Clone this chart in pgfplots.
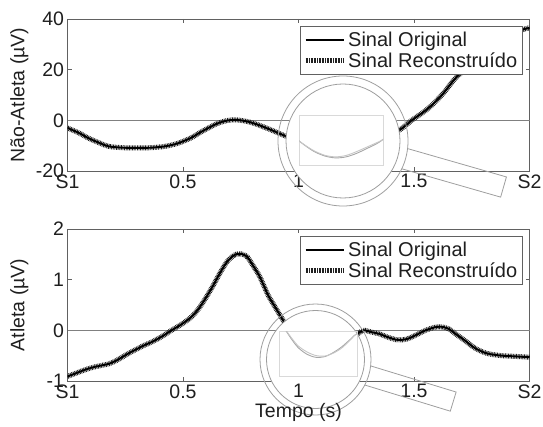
\documentclass[border=0pt]{standalone}
\usepackage{fontspec}
\setmainfont{Liberation Sans}
\usepackage{pgfplots}
\usepackage{pgfplotstable}
\pgfplotsset{compat=1.18}

\definecolor{txt}{gray}{0.12}
\definecolor{frame}{gray}{0.38}
\definecolor{lens}{gray}{0.62}
\newcommand\tf{\fontsize{19.5}{22}\selectfont}

% Nao-Atleta, original
\pgfplotstableread{
x y
0.00 -3.0
0.05 -5.0
0.09 -7.0
0.14 -9.0
0.18 -10.3
0.24 -10.8
0.30 -10.9
0.36 -10.8
0.42 -10.3
0.47 -9.3
0.50 -8.3
0.54 -6.7
0.57 -5.0
0.61 -3.0
0.65 -1.2
0.69 -0.1
0.72 0.2
0.75 0.0
0.78 -0.5
0.82 -1.6
0.86 -3.0
0.90 -4.5
0.93 -5.7
0.97 -7.2
1.02 -8.8
1.08 -10.0
1.14 -10.5
1.20 -10.2
1.26 -9.2
1.32 -7.8
1.37 -6.6
1.41 -5.3
1.45 -3.0
1.49 0.0
1.54 3.2
1.58 6.2
1.63 11.0
1.68 16.7
1.74 21.5
1.80 25.8
1.86 29.8
1.92 33.3
1.97 35.8
2.00 36.5
}\topor

% Nao-Atleta, reconstruido
\pgfplotstableread{
x y
0.00 -3.0
0.05 -5.0
0.09 -7.0
0.14 -9.0
0.18 -10.3
0.24 -10.8
0.30 -10.9
0.36 -10.8
0.42 -10.3
0.47 -9.3
0.50 -8.3
0.54 -6.7
0.57 -5.0
0.61 -3.0
0.65 -1.2
0.69 -0.1
0.72 0.2
0.75 0.0
0.78 -0.5
0.82 -1.6
0.86 -3.0
0.90 -4.5
0.93 -5.7
0.97 -7.1
1.02 -8.6
1.08 -9.8
1.14 -10.2
1.20 -9.8
1.26 -8.7
1.32 -7.4
1.37 -6.3
1.41 -5.3
1.45 -3.0
1.49 0.0
1.54 3.2
1.58 6.2
1.63 11.0
1.68 16.7
1.74 21.5
1.80 25.8
1.86 29.8
1.92 33.3
1.97 35.8
2.00 36.5
}\toprec

% Atleta, original
\pgfplotstableread{
x y
0.00 -0.91
0.04 -0.84
0.075 -0.78
0.11 -0.73
0.15 -0.69
0.18 -0.66
0.21 -0.60
0.24 -0.52
0.27 -0.44
0.30 -0.37
0.33 -0.30
0.36 -0.24
0.39 -0.17
0.42 -0.09
0.45 0.00
0.48 0.08
0.51 0.17
0.54 0.28
0.57 0.44
0.60 0.65
0.63 0.88
0.66 1.13
0.69 1.35
0.72 1.48
0.74 1.51
0.76 1.50
0.78 1.44
0.80 1.30
0.83 1.08
0.85 0.88
0.87 0.68
0.90 0.45
0.92 0.30
0.95 0.07
0.98 -0.10
1.01 -0.24
1.05 -0.35
1.09 -0.40
1.13 -0.39
1.17 -0.32
1.21 -0.22
1.25 -0.09
1.28 0.00
1.32 -0.04
1.35 -0.07
1.39 -0.14
1.43 -0.19
1.47 -0.17
1.51 -0.09
1.55 0.00
1.59 0.06
1.62 0.07
1.65 0.03
1.68 -0.07
1.72 -0.20
1.76 -0.34
1.80 -0.43
1.83 -0.47
1.88 -0.50
1.92 -0.51
1.96 -0.52
2.00 -0.53
}\botor

% Atleta, reconstruido
\pgfplotstableread{
x y
0.00 -0.91
0.04 -0.84
0.075 -0.78
0.11 -0.73
0.15 -0.69
0.18 -0.66
0.21 -0.60
0.24 -0.52
0.27 -0.44
0.30 -0.37
0.33 -0.30
0.36 -0.24
0.39 -0.17
0.42 -0.09
0.45 0.00
0.48 0.08
0.51 0.17
0.54 0.28
0.57 0.44
0.60 0.65
0.63 0.88
0.66 1.13
0.69 1.35
0.72 1.48
0.74 1.51
0.76 1.50
0.78 1.44
0.80 1.30
0.83 1.08
0.85 0.88
0.87 0.68
0.90 0.45
0.92 0.30
0.95 0.08
0.98 -0.08
1.01 -0.21
1.05 -0.31
1.09 -0.37
1.13 -0.38
1.17 -0.33
1.21 -0.24
1.25 -0.10
1.28 0.00
1.32 -0.04
1.35 -0.07
1.39 -0.14
1.43 -0.19
1.47 -0.17
1.51 -0.09
1.55 0.00
1.59 0.06
1.62 0.07
1.65 0.03
1.68 -0.07
1.72 -0.20
1.76 -0.34
1.80 -0.43
1.83 -0.47
1.88 -0.50
1.92 -0.51
1.96 -0.52
2.00 -0.53
}\botrec

\pgfplotsset{
  geom/.style={scale only axis, width=462pt, height=152pt, xmin=0, xmax=2,
    xtick={0,0.5,1,1.5,2},
    tick label style={font=\tf, text=txt}, label style={font=\tf, text=txt}},
  mainax/.style={
    geom,
    xticklabels={S1,0.5,1,1.5,S2},
    tick align=inside, major tick length=4pt,
    axis line style={frame, line width=0.7pt}, tick style={frame, line width=0.6pt},
    extra y ticks={0}, extra y tick labels={},
    extra y tick style={grid=major, major grid style={gray, line width=0.9pt}, major tick length=0pt},
    /pgf/number format/assume math mode=true,
    ylabel style={at={(axis description cs:-0.104,0.5)}, anchor=center},
    legend cell align=left,
    legend image code/.code={\draw[##1] (0pt,0pt) -- (38pt,0pt);},
    legend style={at={(1,1)}, anchor=north east, xshift=-7pt, yshift=-7pt,
      draw=frame, line width=0.6pt, fill=white, inner xsep=3pt, inner ysep=3pt, row sep=0pt,
      font=\fontsize{20}{23}\selectfont, text=txt,
      nodes={inner xsep=2pt, inner ysep=2.5pt}},
  },
  orig/.style={black, line width=1.9pt, smooth},
  recon/.style={gray!25!black, line width=5pt, dash pattern=on 0.8pt off 0.8pt, smooth},
  inset/.style={scale only axis, ticks=none, axis line style={gray!30, line width=0.8pt}},
}

\begin{document}
\begin{tikzpicture}

% Nao-Atleta
\begin{axis}[mainax, at={(67.5pt,-171pt)}, anchor=south west,
  ymin=-20, ymax=40, ytick={-20,0,20,40}, yticklabels={-20,0,20,40},
  ylabel={Não-Atleta (µV)}]
  \addlegendimage{orig}
  \addlegendentry{Sinal Original}
  \addlegendimage{recon}
  \addlegendentry{Sinal Reconstruído}
  \addplot[recon, forget plot] table {\toprec};
  \addplot[orig, forget plot] table {\topor};
\end{axis}

% Atleta
\begin{axis}[mainax, at={(67.5pt,-381pt)}, anchor=south west,
  ymin=-1, ymax=2, ytick={-1,0,1,2}, yticklabels={-1,0,1,2},
  xticklabels={S1,0.5,,1.5,S2},
  ylabel={Atleta (µV)}]
  \addlegendimage{orig}
  \addlegendentry{Sinal Original}
  \addlegendimage{recon}
  \addlegendentry{Sinal Reconstruído}
  \addplot[recon, forget plot] table {\botrec};
  \addplot[orig, forget plot] table {\botor};
\end{axis}

% lupa de cima
\begin{scope}[shift={(343pt,-141pt)}, rotate=-16]
  \draw[lens, line width=0.8pt] (64.1pt,10.5pt) -- (167pt,10.5pt) -- (167pt,-10.5pt) -- (64.1pt,-10.5pt);
\end{scope}
\fill[white] (343pt,-141pt) circle[radius=57pt];
\draw[lens, line width=0.8pt] (343pt,-141pt) circle[radius=57pt];
\draw[lens, line width=0.8pt] (343pt,-141pt) circle[radius=65pt];

% lupa de baixo
\begin{scope}[shift={(315.5pt,-359.5pt)}, rotate=-17]
  \draw[lens, line width=0.8pt] (54.6pt,10pt) -- (144pt,10pt) -- (144pt,-10pt) -- (54.6pt,-10pt);
\end{scope}
\fill[white] (315.5pt,-359.5pt) circle[radius=49pt];
\draw[lens, line width=0.8pt] (315.5pt,-359.5pt) circle[radius=49pt];
\draw[lens, line width=0.8pt] (315.5pt,-359.5pt) circle[radius=55.5pt];

% rotulo "1" e titulo do eixo x por cima da lupa
\begin{axis}[geom, at={(67.5pt,-381pt)}, anchor=south west,
  ymin=-1, ymax=2, axis line style={draw=none}, tick style={draw=none},
  ytick=\empty, xticklabels={,,1,,},
  xlabel={Tempo (s)},
  xlabel style={at={(axis description cs:0.5,-0.21)}, anchor=center}]
\end{axis}

% detalhe ampliado, Nao-Atleta
\begin{axis}[inset, at={(299pt,-165pt)}, anchor=south west, width=84pt, height=50pt,
  xmin=0.93, xmax=1.41, ymin=-12.5, ymax=1.6]
  \addplot[gray!70, line width=0.9pt, smooth] table {\topor};
  \addplot[gray!45, line width=0.9pt, smooth] table {\toprec};
\end{axis}

% detalhe ampliado, Atleta
\begin{axis}[inset, at={(279pt,-376pt)}, anchor=south west, width=78pt, height=45pt,
  xmin=0.92, xmax=1.28, ymin=-0.72, ymax=0.05]
  \addplot[gray!70, line width=0.9pt, smooth] table {\botor};
  \addplot[gray!45, line width=0.9pt, smooth] table {\botrec};
\end{axis}

\pgfresetboundingbox
\path[use as bounding box] (0pt,0pt) rectangle (543pt,-427pt);
\end{tikzpicture}
\end{document}
